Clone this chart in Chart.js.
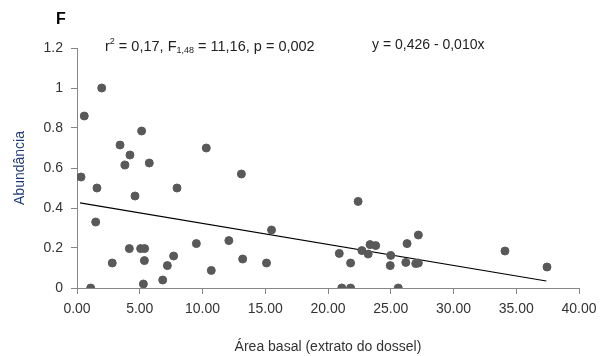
<!DOCTYPE html>
<html>
<head>
<meta charset="utf-8">
<script src="https://cdn.jsdelivr.net/npm/chart.js@4.4.1/dist/chart.umd.min.js"></script>
<style>
  html, body { margin: 0; padding: 0; background: #fff; }
  #wrap { width: 601px; height: 356px; position: relative; }
</style>
</head>
<body>
<div id="wrap"><canvas id="chart" width="601" height="356"></canvas></div>
<script>
// ── Data ────────────────────────────────────
const basalArea = [
  0.32, 0.58, 1.09, 1.49, 1.59, 1.97, 2.81, 3.43, 3.82, 4.22,
  4.17, 4.62, 5.15, 5.07, 5.39, 5.37, 5.29, 5.76, 6.83, 7.20,
  7.70, 7.97, 9.51, 10.30, 10.70, 12.10, 13.10, 13.20, 15.10, 15.50,
  20.90, 21.10, 21.80, 21.80, 22.40, 22.70, 23.20, 23.35, 23.80, 25.00,
  24.96, 25.60, 26.30, 26.20, 26.99, 27.20, 27.20, 34.10, 37.45
];
const abundance = [
  0.555, 0.86, 0.00, 0.33, 0.50, 1.00, 0.125, 0.715, 0.615, 0.665,
  0.197, 0.46, 0.785, 0.197, 0.197, 0.137, 0.02, 0.625, 0.04, 0.112,
  0.16, 0.50, 0.222, 0.70, 0.088, 0.237, 0.57, 0.145, 0.125, 0.29,
  0.173, 0.00, 0.00, 0.125, 0.433, 0.187, 0.17, 0.217, 0.212, 0.163,
  0.112, 0.00, 0.222, 0.128, 0.122, 0.125, 0.265, 0.185, 0.105
];

// regression line ends (y = 0,426 - 0,010x)
const fitX = [0.24, 37.40];
const fitY = [0.426, 0.035];

const xTicks = [0, 5, 10, 15, 20, 25, 30, 35, 40];
const yTicks = [0, 0.2, 0.4, 0.6, 0.8, 1, 1.2];

// ── Styles ─────────────────────────────────
const FONT      = "'Liberation Sans', Arial, sans-serif";
const AXIS_GRAY = '#868686';
const DOT_GRAY  = '#595959';

// ── Text overlay: panel letter + stats ─────
const annotations = {
  id: 'annotations',
  afterDraw(chart) {
    const ctx = chart.ctx;
    ctx.save();
    ctx.fillStyle = '#000';
    ctx.textBaseline = 'middle';
    ctx.font = 'bold 16px ' + FONT;
    ctx.fillText('F', 56, 20);

    // r² = 0,17, F1,48 = 11,16, p = 0,002
    const parts = [
      { t: 'r', size: 14.5, dy: 0 },
      { t: '2', size: 9, dy: -5 },
      { t: ' = 0,17, F', size: 14.5, dy: 0 },
      { t: '1,48', size: 9, dy: 4 },
      { t: ' = 11,16, p = 0,002', size: 14.5, dy: 0 }
    ];
    let x = 105;
    ctx.fillStyle = '#222';
    parts.forEach(p => {
      ctx.font = p.size + 'px ' + FONT;
      ctx.fillText(p.t, x, 47 + p.dy);
      x += ctx.measureText(p.t).width;
    });

    ctx.font = '14px ' + FONT;
    ctx.fillText('y = 0,426 - 0,010x', 372, 45);
    ctx.restore();
  }
};

const chart = new Chart(document.getElementById('chart'), {
  type: 'scatter',
  data: {
    datasets: [
      {
        label: 'Abundância',
        data: basalArea.map((v, i) => ({ x: v, y: abundance[i] })),
        backgroundColor: DOT_GRAY,
        borderColor: DOT_GRAY,
        pointRadius: 4,
        pointHoverRadius: 4
      },
      {
        type: 'line',
        label: 'fit',
        data: fitX.map((v, i) => ({ x: v, y: fitY[i] })),
        borderColor: '#000',
        borderWidth: 1.2,
        pointRadius: 0,
        fill: false
      }
    ]
  },
  options: {
    responsive: false,
    animation: false,
    layout: { padding: { top: 48, right: 22, left: 0, bottom: 0 } },
    plugins: {
      legend: { display: false },
      tooltip: { enabled: false }
    },
    scales: {
      x: {
        type: 'linear',
        min: 0,
        max: 40,
        afterBuildTicks: s => { s.ticks = xTicks.map(v => ({ value: v })); },
        afterFit: s => {
          s.height = 68;
          s.paddingLeft = 0;
          s.paddingRight = 0;
        },
        grid: {
          display: true,
          drawOnChartArea: false,
          drawTicks: true,
          tickLength: 6,
          color: AXIS_GRAY
        },
        border: { display: true, color: AXIS_GRAY, width: 1 },
        ticks: {
          color: '#333',
          font: { family: FONT, size: 14 },
          padding: 7,
          maxRotation: 0,
          callback: v => v.toFixed(2)
        },
        title: {
          display: true,
          text: 'Área basal (extrato do dossel)',
          color: '#333',
          font: { family: FONT, size: 14 },
          padding: { top: 14, bottom: 0 }
        }
      },
      y: {
        min: 0,
        max: 1.2,
        afterBuildTicks: s => { s.ticks = yTicks.map(v => ({ value: v })); },
        afterFit: s => { s.width = 77; },
        grid: {
          display: true,
          drawOnChartArea: false,
          drawTicks: true,
          tickLength: 6,
          color: AXIS_GRAY
        },
        border: { display: true, color: AXIS_GRAY, width: 1 },
        ticks: {
          color: '#333',
          font: { family: FONT, size: 14 },
          padding: 8,
          callback: v => String(Math.round(v * 10) / 10)
        },
        title: {
          display: true,
          text: 'Abundância',
          color: '#1f3c78',
          font: { family: FONT, size: 14 },
          padding: { top: 12, bottom: 4 }
        }
      }
    }
  },
  plugins: [annotations]
});
</script>
</body>
</html>
